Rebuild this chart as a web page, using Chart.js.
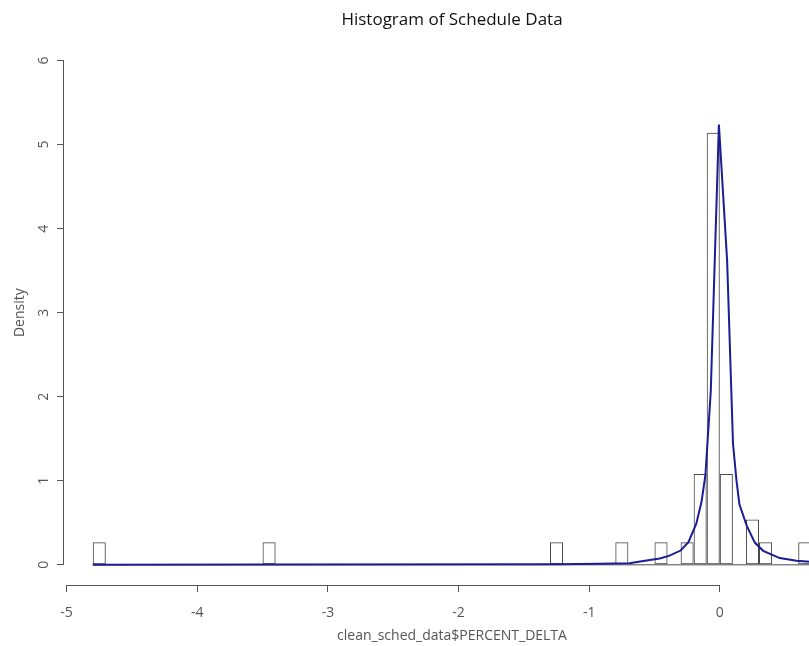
<!DOCTYPE html>
<html>
<head>
<meta charset="utf-8">
<script src="https://cdn.jsdelivr.net/npm/chart.js@4"></script>
<style>
  html, body { margin: 0; padding: 0; background: #fff; overflow: hidden; }
  canvas { display: block; }
</style>
</head>
<body>
<canvas id="hist" width="880" height="646"></canvas>
<script>
// histogram bins (start of each non-empty bin) and their density
const binStart = [-4.8, -3.5, -1.3, -0.8, -0.5, -0.3, -0.2, -0.1, 0.0, 0.2, 0.3, 0.6];
const binDensity = [0.27, 0.27, 0.27, 0.27, 0.27, 0.27, 1.08, 5.14, 1.08, 0.54, 0.27, 0.27];
const binWidth = 0.1;
const breaksRange = [-4.8, 0.7];

// fitted density curve
const curveX = [-4.8, -3.45, -1.25, -0.92, -0.69, -0.61, -0.46, -0.39, -0.3, -0.24, -0.18, -0.14, -0.11, -0.069, -0.007, 0.056, 0.101, 0.128, 0.15, 0.205, 0.268, 0.332, 0.459, 0.587, 0.69];
const curveY = [0.002, 0.003, 0.007, 0.012, 0.02, 0.04, 0.075, 0.107, 0.17, 0.27, 0.49, 0.75, 1.07, 2.07, 5.24, 3.62, 1.44, 1.0, 0.72, 0.47, 0.265, 0.167, 0.08, 0.048, 0.036];

const xTicks = [-5, -4, -3, -2, -1, 0];
const yTicks = [0, 1, 2, 3, 4, 5, 6];

const FONT = "'Open Sans', 'Noto Sans', sans-serif";
const AXIS = '#555';

// R style axes: line only between first and last tick, y labels rotated
const rAxes = {
  id: 'rAxes',
  afterDraw(chart) {
    const {ctx, chartArea, scales: {x, y}} = chart;
    ctx.save();
    ctx.strokeStyle = AXIS;
    ctx.lineWidth = 1;
    ctx.beginPath();
    const by = Math.round(chartArea.bottom) + 0.5;
    ctx.moveTo(x.getPixelForValue(xTicks[0]), by);
    ctx.lineTo(x.getPixelForValue(xTicks[xTicks.length - 1]), by);
    const lx = Math.round(chartArea.left) - 0.5;
    ctx.moveTo(lx, y.getPixelForValue(yTicks[0]));
    ctx.lineTo(lx, y.getPixelForValue(yTicks[yTicks.length - 1]));
    ctx.stroke();

    ctx.fillStyle = AXIS;
    ctx.font = '14px ' + FONT;
    ctx.textAlign = 'center';
    ctx.textBaseline = 'middle';
    yTicks.forEach(v => {
      ctx.save();
      ctx.translate(44, y.getPixelForValue(v));
      ctx.rotate(-Math.PI / 2);
      ctx.fillText(String(v), 0, 0);
      ctx.restore();
    });
    ctx.restore();
  }
};

new Chart(document.getElementById('hist'), {
  type: 'bar',
  data: {
    datasets: [
      {
        type: 'line',
        label: 'density',
        data: curveX.map((v, i) => ({x: v, y: curveY[i]})),
        borderColor: '#1c1c96',
        borderWidth: 2,
        pointRadius: 0,
        tension: 0,
        order: 0
      },
      {
        type: 'line',
        label: 'base',
        data: breaksRange.map(v => ({x: v, y: 0})),
        borderColor: '#4a4a4a',
        borderWidth: 1,
        pointRadius: 0,
        order: 2
      },
      {
        label: 'hist',
        data: binStart.map((s, i) => ({x: s + binWidth / 2, y: binDensity[i]})),
        backgroundColor: 'rgba(255,255,255,0)',
        borderColor: '#4a4a4a',
        borderWidth: 1,
        borderSkipped: false,
        inflateAmount: 0,
        barPercentage: 1,
        categoryPercentage: 1,
        order: 1
      }
    ]
  },
  options: {
    responsive: false,
    animation: false,
    layout: { padding: { top: 0, right: 40, bottom: 0, left: 0 } },
    plugins: {
      legend: { display: false },
      tooltip: { enabled: false },
      title: {
        display: true,
        text: 'Histogram of Schedule Data',
        fullSize: false,
        color: '#111',
        font: { family: FONT, size: 17, weight: 'normal' },
        padding: { top: 10, bottom: 10 }
      }
    },
    scales: {
      x: {
        type: 'linear',
        min: -5.02,
        max: 0.92,
        offset: false,
        afterBuildTicks: s => { s.ticks = xTicks.map(v => ({value: v})); },
        afterFit: s => { s.height = 61; },
        border: { display: false },
        grid: { offset: false, drawOnChartArea: false, drawTicks: true, tickLength: 7, color: AXIS },
        ticks: { color: AXIS, font: { family: FONT, size: 14 }, padding: 13, maxRotation: 0 },
        title: {
          display: true,
          text: 'clean_sched_data$PERCENT_DELTA',
          color: AXIS,
          font: { family: FONT, size: 14 },
          padding: { top: 0, bottom: 2 }
        }
      },
      y: {
        min: -0.24,
        max: 6.24,
        afterBuildTicks: s => { s.ticks = yTicks.map(v => ({value: v})); },
        afterFit: s => { s.width = 64; },
        border: { display: false },
        grid: { drawOnChartArea: false, drawTicks: true, tickLength: 7, color: AXIS },
        ticks: { display: false },
        title: {
          display: true,
          text: 'Density',
          color: AXIS,
          font: { family: FONT, size: 14 },
          padding: { top: 12, bottom: 0 }
        }
      }
    }
  },
  plugins: [rAxes]
});
</script>
</body>
</html>
